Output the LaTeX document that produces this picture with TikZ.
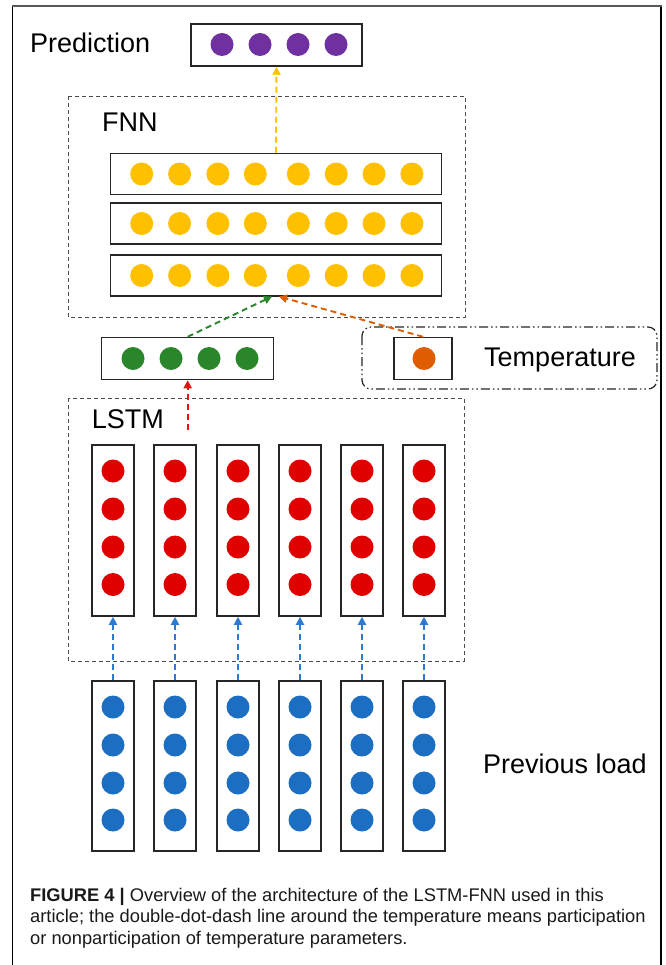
\documentclass[tikz,border=0pt]{standalone}
\usepackage{fontspec}
\setmainfont{Liberation Sans}
\usetikzlibrary{arrows.meta}
\definecolor{cpurple}{HTML}{7030A0}
\definecolor{cyellow}{HTML}{FFC000}
\definecolor{cgreen}{HTML}{2A862A}
\definecolor{corange}{HTML}{E05C00}
\definecolor{cred}{HTML}{E00000}
\definecolor{cblue}{HTML}{1B6EC2}
\definecolor{ablue}{HTML}{2E7AD0}
\definecolor{ared}{HTML}{E81010}
\begin{document}
\begin{tikzpicture}[x=1pt,y=-1pt,
  dot/.style={circle,inner sep=0pt,minimum size=23pt},
  layer/.style={draw=black!85,line width=1.5pt,rectangle,inner sep=0pt},
  group/.style={draw=black!70,line width=0.9pt,dash pattern=on 4pt off 3pt},
  flow/.style={line width=1.9pt,dash pattern=on 6pt off 4pt,-{Triangle[length=8pt,width=8pt]}},
  lbl/.style={font=\fontsize{27}{32}\selectfont,inner sep=0pt,anchor=base west},
  captxt/.style={font=\fontsize{18.3}{22}\selectfont,inner sep=0pt,anchor=base west,text=black!90}]
\useasboundingbox (0,0) rectangle (665,965);
% outer frame
\draw[line width=1.3pt,black] (12.7,975) -- (12.7,6);
\draw[line width=1.3pt,black] (661,6) -- (661,975);
\draw[line width=2pt,black!65] (12,6) -- (661.6,6);

% labels
\node[lbl] (tpred) at (30,52.7) {Prediction};
\node[lbl] (tfnn) at (102,131.7) {FNN};
\node[lbl] (tlstm) at (91.7,428.3) {LSTM};
\node[lbl] (ttemp) at (484,366) {Temperature};
\node[lbl] (tprev) at (483,773) {Previous load};

% groups
\draw[group] (68,96) rectangle (465,317);
\draw[group] (68,398) rectangle (464,661);
\draw[line width=1.2pt,black!85,rounded corners=9pt,dash pattern=on 9pt off 3pt on 1.5pt off 3pt on 1.5pt off 3pt] (362,327) rectangle (657,389);

% prediction
\node[layer,minimum width=171pt,minimum height=42pt] (pred) at (276.5,45) {};
\foreach \x [count=\i] in {222,260,298,336}
  \node[dot,fill=cpurple] (p\i) at (\x,44.5) {};

% FNN rows
\foreach \y [count=\r] in {174,223.5,275.5}{
  \node[layer,minimum width=331pt,minimum height=41pt] (fnn\r) at (276,\y) {};
  \foreach \x [count=\i] in {141.7,179.6,217.9,255.3,298.3,336.2,374,411.9}
    \node[dot,fill=cyellow] (f\r-\i) at (\x,\y) {};
}

% LSTM output
\node[layer,minimum width=172pt,minimum height=42pt] (green) at (187.7,358.5) {};
\foreach \x [count=\i] in {133,171,209,247}
  \node[dot,fill=cgreen] (g\i) at (\x,358.5) {};

% temperature
\node[layer,minimum width=58pt,minimum height=42pt] (tbox) at (423,358.5) {};
\node[dot,fill=corange] (tdot) at (424,358.5) {};

% LSTM columns and inputs
\foreach \cx [count=\i] in {113,175,238,300,362,424}{
  \node[layer,minimum width=42pt,minimum height=171pt] (l\i) at (\cx,530.5) {};
  \node[layer,minimum width=42pt,minimum height=170pt] (b\i) at (\cx,766) {};
  \foreach \y [count=\k] in {471,509,547,584.5}
    \node[dot,fill=cred] (ld\i-\k) at (\cx,\y) {};
  \foreach \y [count=\k] in {707,745,783,820}
    \node[dot,fill=cblue] (bd\i-\k) at (\cx,\y) {};
  \draw[flow,ablue] (b\i.north) -- (l\i.south);
}

% connectors
\coordinate (rs) at (187.7,430);
\coordinate (gt) at (272,296.5);
\coordinate (ot) at (279,296.5);
\draw[flow,cyellow] (fnn1.north) -- (pred.south);
\draw[flow,ared] (rs) -- (green.south);
\draw[flow,cgreen] (green.north) -- (gt);
\draw[flow,corange] (tbox.north) -- (ot);

% caption
\node[captxt] (c1) at (30,901) {\textbf{FIGURE 4} \textbf{|} Overview of the architecture of the LSTM-FNN used in this};
\node[captxt] (c2) at (30,922.5) {article; the double-dot-dash line around the temperature means participation};
\node[captxt] (c3) at (30,944) {or nonparticipation of temperature parameters.};
\end{tikzpicture}
\end{document}
